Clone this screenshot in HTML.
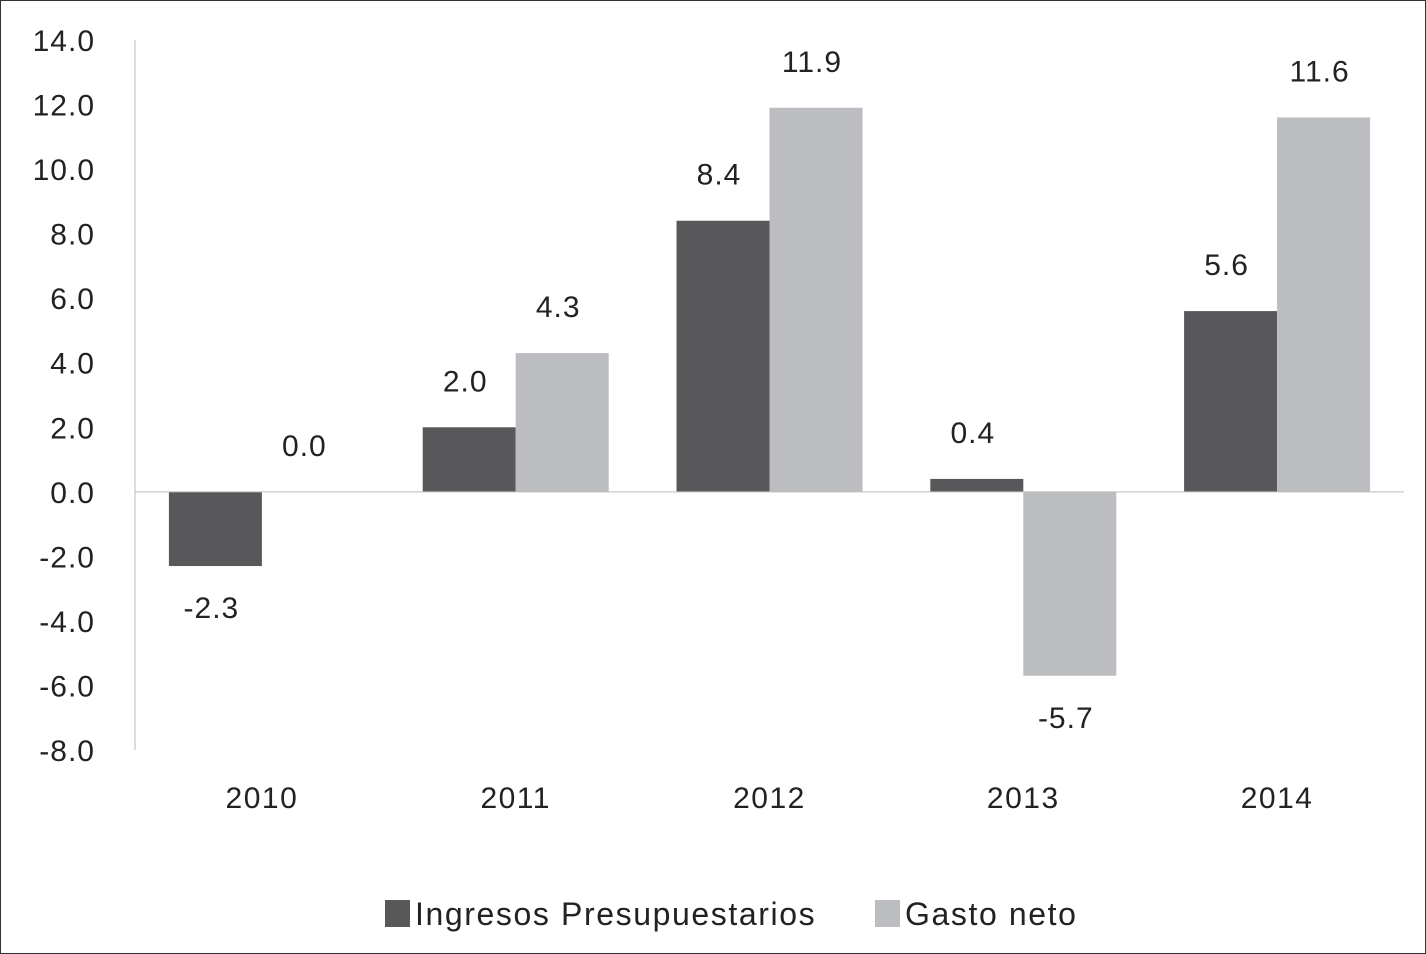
<!DOCTYPE html>
<html><head><meta charset="utf-8"><style>
body{margin:0;background:#fff}
svg{display:block;font-family:"Liberation Sans",sans-serif}
</style></head><body>
<svg id="c" width="1426" height="954">
<rect x="0.5" y="0.5" width="1425" height="953" fill="#fff" stroke="#333"/>
</svg>
<script>
const categories=["2010","2011","2012","2013","2014"];
const ingresos=[-2.3,2.0,8.4,0.4,5.6];
const gasto=[0.0,4.3,11.9,-5.7,11.6];
const yTicks=[14,12,10,8,6,4,2,0,-2,-4,-6,-8];
const svg=document.getElementById('c');
const NS='http://www.w3.org/2000/svg';
const L=135,R=1404,T=40,B=750,yMax=14,yMin=-8;
const y=v=>T+(yMax-v)*(B-T)/(yMax-yMin);
const step=(R-L)/categories.length;
const cx=i=>L+step*(i+0.5);
function mk(t,a,txt){const e=document.createElementNS(NS,t);for(const k in a)e.setAttribute(k,a[k]);if(txt!==undefined)e.textContent=txt;svg.appendChild(e);return e;}
let e=mk('line',{x1:L,x2:L,y1:T,y2:B,stroke:'#bbb','stroke-width':1});


yTicks.forEach(v=>{
 const t=mk('text',{x:95,y:y(v)+11,'text-anchor':'end','font-size':30,'letter-spacing':1,fill:'#222'},v.toFixed(1));
 
 
});
const bw=93;
function bar(i,v,off,color,name){
 const y0=y(0),y1=y(v);
 const r=mk('rect',{x:cx(i)+off,y:Math.min(y0,y1),width:bw,height:Math.abs(y1-y0),fill:color});
 
 
 const ly=v>=0?y1-36:y1+52;
 const t=mk('text',{x:cx(i)+off+bw/2-4,y:ly,'text-anchor':'middle','font-size':30,'letter-spacing':1,fill:'#222'},v.toFixed(1));
 
 
}
categories.forEach((c,i)=>{
 bar(i,ingresos[i],-bw,'#58585a','bar-ingresos-'+c);
 bar(i,gasto[i],0,'#bcbdc0','bar-gasto-'+c);
 const t=mk('text',{x:cx(i),y:808,'text-anchor':'middle','font-size':30,'letter-spacing':1.5,fill:'#222'},c);
 
 
});
e=mk('line',{x1:L,x2:R,y1:y(0),y2:y(0),stroke:'#bbb','stroke-width':1});


e=mk('rect',{x:385,y:900,width:25,height:27,fill:'#58585a'});


e=mk('text',{x:415,y:925,'font-size':32,'letter-spacing':1.6,fill:'#222'},'Ingresos Presupuestarios');


e=mk('rect',{x:875,y:900,width:25,height:27,fill:'#bcbdc0'});


e=mk('text',{x:905,y:925,'font-size':32,'letter-spacing':1.6,fill:'#222'},'Gasto neto');


</script>
</body></html>
